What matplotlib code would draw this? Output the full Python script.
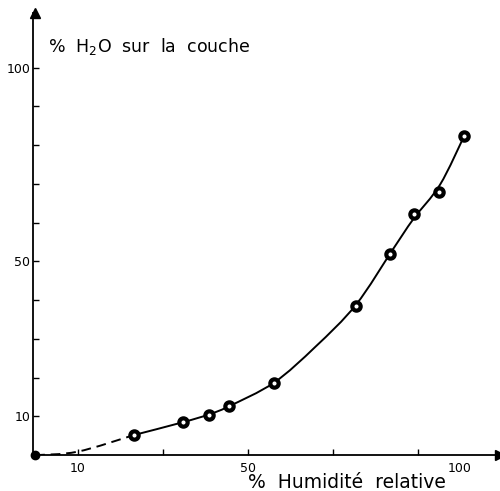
import numpy as np
import matplotlib.pyplot as plt
from matplotlib.path import Path
from matplotlib.patches import PathPatch

# values
humid = [23.3, 34.8, 40.9, 45.6, 56.2, 75.5, 83.5, 89.2, 95.1, 101.0]
water = [5.2, 8.5, 10.4, 12.7, 18.7, 38.6, 51.8, 62.2, 67.9, 82.4]
# the hand-drawn curve, read along the line itself
dash_x = [0, 10, 23.3]
dash_y = [0, 0.9, 5.2]
curve_x = [23.3, 34.8, 40.9, 45.6, 56.2, 66.0, 75.5, 84.2, 89.0, 95.3, 101.0]
curve_y = [5.2, 8.5, 10.5, 12.6, 18.7, 28.0, 38.8, 53.1, 60.9, 69.8, 82.4]
xtick_pos = [10, 30, 50, 70, 90]
xtick_lab = ['10', '', '50', '', '']
ytick_pos = [10, 20, 30, 40, 50, 60, 70, 80, 90, 100]
ytick_lab = ['10', '', '', '', '50', '', '', '', '', '100']


def smooth_path(x, y):
    # catmull-rom through the points, drawn as cubic bezier segments
    p = np.column_stack([x, y]).astype(float)
    p = np.vstack([p[0], p, p[-1]])
    verts, codes = [p[1]], [Path.MOVETO]
    for i in range(1, len(p) - 2):
        c1 = p[i] + (p[i + 1] - p[i - 1]) / 6
        c2 = p[i + 1] - (p[i + 2] - p[i]) / 6
        verts += [c1, c2, p[i + 1]]
        codes += [Path.CURVE4] * 3
    return Path(verts, codes)


fig = plt.figure(figsize=(5.0, 4.91), dpi=100)
ax = fig.add_axes([0.066, 0.073, 0.934, 0.90])
ax.set_xlim(-0.5, 109.4)
ax.set_ylim(0, 114)

ax.add_patch(PathPatch(smooth_path(dash_x, dash_y), fill=False, lw=1.4,
                       ls=(0, (5, 3)), ec='black'))
ax.add_patch(PathPatch(smooth_path(curve_x, curve_y), fill=False, lw=1.4, ec='black'))
ax.plot(humid, water, 'o', ms=6, mfc='white', mec='black', mew=3)
ax.plot([0], [0], 'o', ms=6, color='black', clip_on=False)

for s in ['top', 'right']:
    ax.spines[s].set_visible(False)
for s in ['left', 'bottom']:
    ax.spines[s].set_linewidth(1.3)
ax.plot(1, 0, '>k', ms=7, transform=ax.get_yaxis_transform(), clip_on=False)
ax.plot(0, 1, '^k', ms=7, transform=ax.get_xaxis_transform(), clip_on=False)

ax.set_xticks(xtick_pos, xtick_lab)
ax.set_xticks([100], ['100'], minor=True)
ax.set_yticks(ytick_pos, ytick_lab)
ax.tick_params(axis='both', which='major', direction='in', length=4, width=1, labelsize=9)
ax.tick_params(axis='x', which='minor', length=0, labelsize=9, pad=5)
ax.tick_params(axis='x', which='major', pad=5)
ax.tick_params(axis='y', pad=2)

fig.text(0.096, 0.905, '%  H$_2$O  sur  la  couche', fontsize=12.5, va='center')
fig.text(0.496, 0.018, '%  Humidité  relative', fontsize=13.5, va='center')

fig.savefig('out.png', dpi=100)
